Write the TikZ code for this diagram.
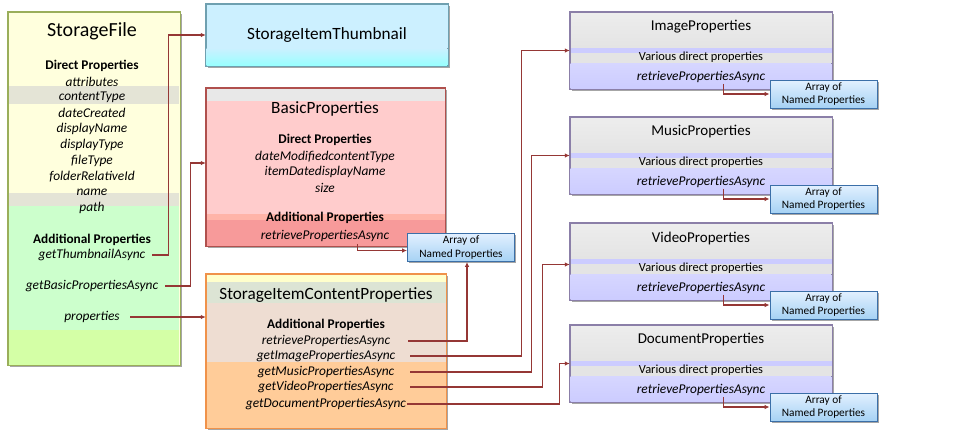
\documentclass[tikz,border=0pt]{standalone}
\usepackage{fontspec}
\setmainfont{Carlito}
\usetikzlibrary{arrows.meta,calc,shadows}
\definecolor{arrowc}{HTML}{953735}
\definecolor{sfbord}{HTML}{9AAE5A}
\definecolor{sfyel}{HTML}{FFFFDD}
\definecolor{sfgray}{HTML}{E4E4D6}
\definecolor{sfgreen}{HTML}{CCFFCC}
\definecolor{sflime}{HTML}{D4FFA6}
\definecolor{thbord}{HTML}{6FA0B0}
\definecolor{thtop}{HTML}{CCF0FF}
\definecolor{thbot}{HTML}{99FFFF}
\definecolor{bpbord}{HTML}{B0504D}
\definecolor{bpgray}{HTML}{E8E8E8}
\definecolor{bppink}{HTML}{FFCCCC}
\definecolor{bpdark}{HTML}{F79A9A}
\definecolor{bpmid}{HTML}{FFB4A8}
\definecolor{scbord}{HTML}{F0924A}
\definecolor{scyel}{HTML}{FFFFCC}
\definecolor{sctitle}{HTML}{DCE4D4}
\definecolor{scpeach}{HTML}{EEDDD2}
\definecolor{scorange}{HTML}{FFCC99}
\definecolor{rbord}{HTML}{8B7FA8}
\definecolor{rgray}{HTML}{E4E4E4}
\definecolor{rlav}{HTML}{CCCCFF}
\definecolor{abord}{HTML}{3B6FA8}
\definecolor{atop}{HTML}{E2F0FF}
\definecolor{abot}{HTML}{A6D2F4}
\tikzset{
  arr/.style={draw=arrowc, line width=1.3pt, -{Latex[length=5pt,width=4.5pt]}},
  boxshadow/.style={drop shadow={shadow xshift=1.5pt, shadow yshift=-1.5pt, opacity=0.35, fill=black}},
  abox/.style={draw=abord, line width=0.8pt, top color=atop, bottom color=abot, minimum width=107pt, minimum height=28pt, inner sep=0pt, align=center, font=\fontsize{11.3}{13.5}\selectfont, boxshadow},
  tbig/.style={font=\fontsize{20}{24}\selectfont, inner sep=0pt},
  tmid/.style={font=\fontsize{17.2}{20}\selectfont, inner sep=0pt},
  tsub/.style={font=\fontsize{15}{18}\selectfont, inner sep=0pt},
  hdr/.style={font=\fontsize{13.3}{16}\selectfont\bfseries, inner sep=0pt},
  itm/.style={font=\fontsize{13.4}{16}\selectfont\itshape, inner sep=0pt},
  plain/.style={font=\fontsize{12.4}{15}\selectfont, inner sep=0pt},
}
\begin{document}
\begin{tikzpicture}[x=1pt,y=-1pt]
\useasboundingbox (0,0) rectangle (956,437);
\fill[white] (0,0) rectangle (956,437);

% ---------- StorageFile ----------
\node[draw=sfbord, fill=sfyel, minimum width=172pt, minimum height=353pt, boxshadow] (sf) at (94,188.5) {};
\fill[sfgray] (9,86) rectangle (179,104);
\fill[sfgray] (9,193) rectangle (179,206);
\fill[sfgreen] (9,206) rectangle (179,330);
\fill[sflime] (9,330) rectangle (179,364.5);
\draw[sfbord, line width=0.8pt] (sf.north west) rectangle (sf.south east);
\node[tbig] (sf-t) at (92,31) {StorageFile};
\node[hdr] (sf-d) at (92,66) {Direct Properties};
\node[itm] (sf-1) at (92,82) {attributes};
\node[itm] (sf-2) at (92,97) {contentType};
\node[itm] (sf-3) at (92,113) {dateCreated};
\node[itm] (sf-4) at (92,129) {displayName};
\node[itm] (sf-5) at (92,145) {displayType};
\node[itm] (sf-6) at (92,161) {fileType};
\node[itm] (sf-7) at (92,177) {folderRelativeId};
\node[itm] (sf-8) at (92,192) {name};
\node[itm] (sf-9) at (92,208) {path};
\node[hdr] (sf-a) at (92,240) {Additional Properties};
\node[itm] (sft) at (92,255) {getThumbnailAsync};
\node[itm] (sfb) at (92,286) {getBasicPropertiesAsync};
\node[itm] (sfp) at (92,317) {properties};

% ---------- StorageItemThumbnail ----------
\node[draw=thbord, fill=thtop, minimum width=242pt, minimum height=62pt, boxshadow] (th) at (327,35) {};
\fill[top color=thtop, bottom color=thbot] (206.5,48) rectangle (447.5,65.5);
\draw[thbord, line width=0.8pt] (th.north west) rectangle (th.south east);
\node[tmid] (th-t) at (327,35) {StorageItemThumbnail};

% ---------- BasicProperties ----------
\node[draw=bpbord, fill=bppink, minimum width=239pt, minimum height=158pt, boxshadow] (bp) at (325.5,167) {};
\fill[bpgray] (206.5,88.5) rectangle (444.5,101);
\fill[bpmid] (206.5,214) rectangle (444.5,220);
\fill[bpdark] (206.5,220) rectangle (444.5,245.5);
\draw[bpbord, line width=0.8pt] (bp.north west) rectangle (bp.south east);
\node[tmid] (bp-t) at (325,109) {BasicProperties};
\node[hdr] (bp-d) at (325,140) {Direct Properties};
\node[itm] (bp-1) at (325,157) {dateModifiedcontentType};
\node[itm] (bp-2) at (325,172) {itemDatedisplayName};
\node[itm] (bp-3) at (325,188) {size};
\node[hdr] (bp-a) at (325,218) {Additional Properties};
\node[itm] (bpr) at (325,236) {retrievePropertiesAsync};

% ---------- StorageItemContentProperties ----------
\node[draw=scbord, fill=scpeach, minimum width=240pt, minimum height=154pt, boxshadow] (sc) at (326,351) {};
\fill[scyel] (206.5,274.5) rectangle (445.5,282);
\fill[sctitle] (206.5,282) rectangle (445.5,303);
\fill[scorange] (206.5,362) rectangle (445.5,427.5);
\draw[scbord, line width=0.8pt] (sc.north west) rectangle (sc.south east);
\node[tmid] (sc-t) at (326,295) {StorageItemContentProperties};
\node[hdr] (sc-a) at (326,325) {Additional Properties};
\node[itm] (scr) at (326,341) {retrievePropertiesAsync};
\node[itm] (sci) at (326,356) {getImagePropertiesAsync};
\node[itm] (scm) at (326,372) {getMusicPropertiesAsync};
\node[itm] (scv) at (326,387) {getVideoPropertiesAsync};
\node[itm] (scd) at (326,404) {getDocumentPropertiesAsync};

% ---------- Array box for BasicProperties / content ----------
\node[abox] (a0) at (461,247.5) {Array of\\Named Properties};

% ---------- Right-hand property boxes ----------
\foreach \nm/\ttl/\t in {ip/ImageProperties/12, mp/MusicProperties/117, vp/VideoProperties/223, dp/DocumentProperties/325} {
  \node[draw=rbord, top color=white!93!black, bottom color=white!85!black, minimum width=262pt, minimum height=77pt, boxshadow] (\nm) at (701,\t+38.5) {};
  \fill[rlav] (570.5,\t+36) rectangle (831.5,\t+41);
  \fill[rgray] (570.5,\t+41) rectangle (831.5,\t+51);
  \fill[top color=rlav!80, bottom color=rlav] (570.5,\t+51) rectangle (831.5,\t+76.5);
  \draw[rbord, line width=0.8pt] (\nm.north west) rectangle (\nm.south east);
  \node[tsub] (\nm-t) at (701,\t+15) {\ttl};
  \node[plain] (\nm-v) at (701,\t+45) {Various direct properties};
  \node[itm] (\nm-r) at (701,\t+65) {retrievePropertiesAsync};
  \node[abox] (\nm-a) at (823.5,\t+82) {Array of\\Named Properties};
}

% ---------- Connectors ----------
\draw[arr] ($(sft.east -| sf.east)+(-28,0)$) -- ++(16,0) |- (th.west);
\draw[arr] ($(sfb.east -| sf.east)+(-15,0)$) -- ++(25,0) |- ([yshift=4pt]bp.west);
\draw[arr] ($(sfp.east -| sf.east)+(-50,0)$) -- (sfp.east -| sc.west);
\draw[arr] ($(bpr.south -| bp.east)+(-88,2)$) |- ([yshift=-3pt]a0.west);
\draw[arr] ($(scr.east -| sc.east)+(-38,0)$) -| ([xshift=6pt]a0.south);
\draw[arr] ($(sci.east -| sc.east)+(-36,0)$) -| ([xshift=-48pt]ip.west) -- (ip.west);
\draw[arr] ($(scm.east -| sc.east)+(-36,0)$) -| ([xshift=-38pt]mp.west) -- (mp.west);
\draw[arr] ($(scv.east -| sc.east)+(-36,0)$) -| ([xshift=-27pt,yshift=-3pt]vp.west) -- ([yshift=-3pt]vp.west);
\draw[arr] ($(scd.east -| sc.east)+(-39,0)$) -| ([xshift=-10pt]dp.west) -- (dp.west);
\foreach \nm in {ip,mp,vp,dp} {
  \draw[arr] ($(\nm-r.south -| \nm.east)+(-109,1)$) |- (\nm-a.west);
}
\end{tikzpicture}
\end{document}
